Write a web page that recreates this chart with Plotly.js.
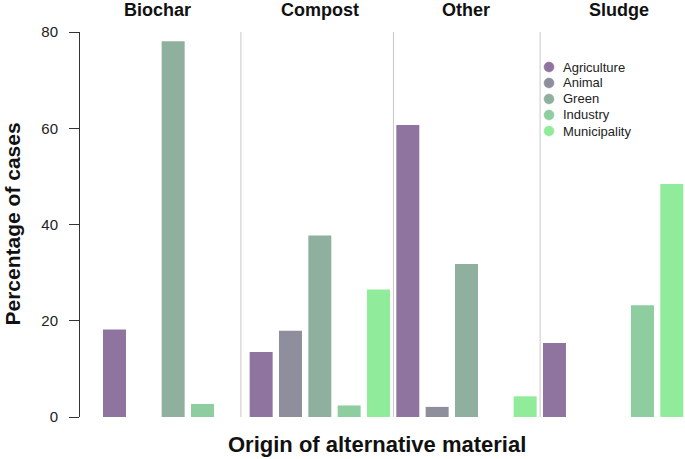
<!DOCTYPE html>
<html>
<head>
<meta charset="utf-8">
<script src="https://cdn.plot.ly/plotly-3.0.1.min.js"></script>
<style>html,body{margin:0;padding:0;background:#fff;}#chart{width:685px;height:459px;}</style>
</head>
<body>
<div id="chart"></div>
<script>
// Data
const groups = ['Biochar', 'Compost', 'Other', 'Sludge'];
const origins = ['Agriculture', 'Animal', 'Green', 'Industry', 'Municipality'];
const agriculture  = [18.2, 13.5, 60.7, 15.4];
const animal       = [null, 17.9, 2.1, null];
const green        = [78.1, 37.7, 31.8, null];
const industry     = [2.7, 2.4, null, 23.2];
const municipality = [null, 26.5, 4.3, 48.4];
const yTicks = [0, 20, 40, 60, 80];

const seriesValues = [agriculture, animal, green, industry, municipality];
const colors = ['#8f74a0', '#8f8e9c', '#8fb09f', '#8ecd9f', '#90ec9a'];

const F = '"Liberation Sans", Arial, Helvetica, sans-serif';

const traces = origins.map((name, oi) => ({
  type: 'bar',
  name: name,
  x: groups.map((g, gi) => gi * origins.length + oi),
  y: seriesValues[oi],
  width: 0.784,
  marker: {color: colors[oi], line: {width: 0}},
  showlegend: false,
  hoverinfo: 'x+y+name'
}));

const dividerPos = [4.31, 9.51, 14.51];
const shapes = dividerPos.map(x => ({
  type: 'line', xref: 'x', yref: 'y', x0: x, x1: x, y0: 0, y1: 80,
  line: {color: '#c8c8c8', width: 1}
}));

// legend (manual, circle markers)
const legX = 549, legY0 = 67, legDy = 16, plotL = 80, plotT = 32, plotW = 605, plotH = 385;
origins.forEach((name, i) => {
  const cx = (legX - plotL) / plotW, cy = 1 - (legY0 + i * legDy - plotT) / plotH;
  shapes.push({
    type: 'circle', xref: 'paper', yref: 'paper', xsizemode: 'pixel', ysizemode: 'pixel',
    xanchor: cx, yanchor: cy, x0: -5, x1: 5, y0: -5, y1: 5,
    fillcolor: colors[i], line: {color: colors[i], width: 0.5}
  });
});

const annotations = [];
origins.forEach((name, i) => {
  annotations.push({
    text: name, xref: 'paper', yref: 'paper',
    x: (legX + 12 - plotL) / plotW, y: 1 - (legY0 + i * legDy - plotT) / plotH,
    xanchor: 'left', yanchor: 'middle', showarrow: false,
    font: {family: F, size: 13, color: '#222'}
  });
});

const groupLabelX = [1.45, 7.0, 12.0, 17.2];
groups.forEach((g, gi) => {
  annotations.push({
    text: '<b>' + g + '</b>', xref: 'x', yref: 'paper', x: groupLabelX[gi], y: 1,
    yshift: 22, xanchor: 'center', yanchor: 'middle', showarrow: false,
    font: {family: F, size: 18, color: '#111'}
  });
});

annotations.push({
  text: '<b>Origin of alternative material</b>', xref: 'x', yref: 'paper', x: 8.95, y: 0,
  yshift: -27, xanchor: 'center', yanchor: 'middle', showarrow: false,
  font: {family: F, size: 22, color: '#111'}
});
annotations.push({
  text: '<b>Percentage of cases</b>', xref: 'paper', yref: 'y', x: 0, y: 40,
  xshift: -68, xanchor: 'center', yanchor: 'middle', textangle: -90, showarrow: false,
  font: {family: F, size: 21, color: '#111'}
});

const layout = {
  width: 685, height: 459,
  margin: {l: 80, r: 0, t: 32, b: 42, pad: 0},
  paper_bgcolor: '#fff', plot_bgcolor: '#fff',
  showlegend: false,
  barmode: 'overlay',
  xaxis: {range: [-1.176, 19.45], showticklabels: false, showline: false, showgrid: false,
          zeroline: false, ticks: ''},
  yaxis: {range: [0, 80], tickvals: yTicks, ticktext: yTicks.map(String), ticks: 'outside',
          ticklen: 10, tickcolor: '#333', tickwidth: 1, showline: true, linecolor: '#333',
          linewidth: 1, showgrid: false, zeroline: false, ticklabelstandoff: 8,
          tickfont: {family: F, size: 15, color: '#222'}},
  shapes: shapes,
  annotations: annotations
};

Plotly.newPlot('chart', traces, layout, {displayModeBar: false, staticPlot: true});
</script>
</body>
</html>
